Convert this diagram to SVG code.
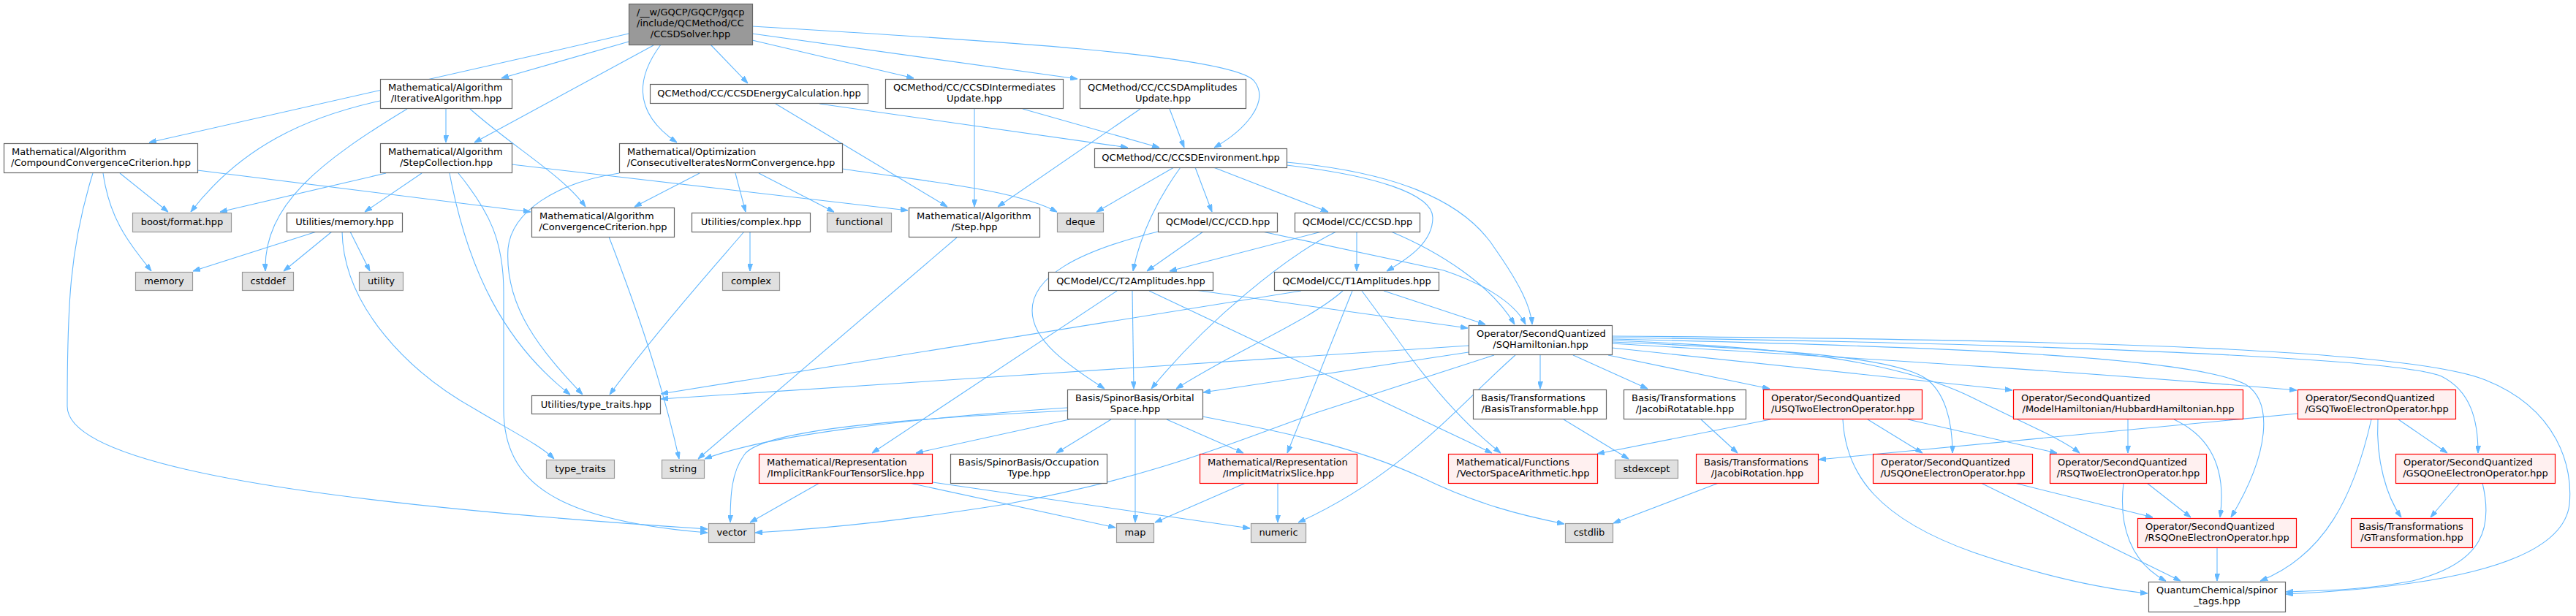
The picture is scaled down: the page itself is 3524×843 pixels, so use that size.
<svg xmlns="http://www.w3.org/2000/svg" width="3524" height="843" viewBox="0 0 3524 843">
<defs>
<marker id="a" viewBox="0 0 10 7" refX="10" refY="3.5" markerWidth="10" markerHeight="7" markerUnits="userSpaceOnUse" orient="auto"><path d="M0,0L10,3.5L0,7z" fill="#63b8ff" stroke="#63b8ff" stroke-width="1"/></marker>
<style>
.e{fill:none;stroke:#63b8ff;stroke-width:1.1;marker-end:url(#a)}
.w rect{fill:#ffffff;stroke:#666666;stroke-width:1.2}
.g rect{fill:#e0e0e0;stroke:#999999;stroke-width:1.2}
.r rect{fill:#fff0f0;stroke:#ff0000;stroke-width:1.2}
.root rect{fill:#999999;stroke:#666666;stroke-width:1.2}
text{font-family:"DejaVu Sans","Liberation Sans",sans-serif;font-size:13px;fill:#000000}
.m{text-anchor:middle}
</style>
</defs>
<rect x="0" y="0" width="3524" height="843" fill="#ffffff"/>
<g id="edges">
<path class="e" d="M860,46 C650,95 450,140 204,195"/>
<path class="e" d="M860,57 L686,107"/>
<path class="e" d="M894,62 L649,195"/>
<path class="e" d="M904,61 C875,100 860,150 926,195"/>
<path class="e" d="M972,61 L1023,114"/>
<path class="e" d="M1029,55 L1250,107"/>
<path class="e" d="M1029,46 L1474,108"/>
<path class="e" d="M1029,36 C1350,55 1680,75 1715,110 C1740,140 1700,180 1661,202"/>
<path class="e" d="M520,138 C420,160 330,200 261,290"/>
<path class="e" d="M557,149 C440,220 360,280 363,371"/>
<path class="e" d="M610,149 L610,195"/>
<path class="e" d="M643,149 C700,200 770,240 801,283"/>
<path class="e" d="M164,237 L230,290"/>
<path class="e" d="M141,237 C150,300 175,330 207,371"/>
<path class="e" d="M127,237 C95,340 92,420 92,556 C92,640 450,690 968,724"/>
<path class="e" d="M270,233 L726,290"/>
<path class="e" d="M528,237 L301,290"/>
<path class="e" d="M577,237 L499,290"/>
<path class="e" d="M615,237 C640,370 690,470 780,540"/>
<path class="e" d="M627,237 C670,290 689,330 689,400 L689,560 C689,660 760,712 968,729"/>
<path class="e" d="M700,225 L1242,288"/>
<path class="e" d="M957,237 L868,283"/>
<path class="e" d="M1006,237 L1020,290"/>
<path class="e" d="M1038,237 L1141,290"/>
<path class="e" d="M1152,231 C1280,250 1390,260 1446,290"/>
<path class="e" d="M847,237 C760,250 700,290 695,340 C690,420 740,480 797,540"/>
<path class="e" d="M1606,229 L1500,290"/>
<path class="e" d="M1615,229 C1585,270 1560,320 1550,371"/>
<path class="e" d="M1635,229 L1658,290"/>
<path class="e" d="M1660,229 L1817,290"/>
<path class="e" d="M1760,226 C1880,240 1960,265 1960,298 C1960,330 1930,352 1897,371"/>
<path class="e" d="M1760,222 C1900,235 2000,270 2045,340 C2080,390 2094,420 2096,444"/>
<path class="e" d="M1646,317 L1569,371"/>
<path class="e" d="M1584,317 C1470,345 1412,380 1412,425 C1412,470 1470,505 1511,532"/>
<path class="e" d="M1727,317 L1975,370 C2020,385 2070,410 2087,444"/>
<path class="e" d="M1808,317 L1600,371"/>
<path class="e" d="M1856,317 L1856,371"/>
<path class="e" d="M1828,317 C1760,350 1650,440 1575,532"/>
<path class="e" d="M1903,317 C1970,345 2040,390 2072,444"/>
<path class="e" d="M1549,398 L1551,532"/>
<path class="e" d="M1635,397 L2008,449"/>
<path class="e" d="M1528,398 L1193,620"/>
<path class="e" d="M1572,398 L2041,620"/>
<path class="e" d="M1780,398 L904,539"/>
<path class="e" d="M1837,398 C1790,440 1690,480 1609,532"/>
<path class="e" d="M1850,398 L1761,620"/>
<path class="e" d="M1863,398 L1905,455 C1940,505 1990,570 2053,620"/>
<path class="e" d="M1893,398 L2032,444"/>
<path class="e" d="M2009,473 L904,546"/>
<path class="e" d="M2009,482 L1646,537"/>
<path class="e" d="M2044,486 L1800,565 C1650,620 1560,656 1376,690 C1250,710 1150,722 1033,729"/>
<path class="e" d="M2073,486 C2000,550 1920,650 1776,715"/>
<path class="e" d="M2107,486 L2107,532"/>
<path class="e" d="M2152,486 L2254,532"/>
<path class="e" d="M2200,486 L2421,532"/>
<path class="e" d="M2205,476 L2753,534"/>
<path class="e" d="M2205,470 C2500,488 2800,505 3142,534"/>
<path class="e" d="M2205,468 C2450,478 2590,490 2633,517 C2660,535 2671,575 2671,620"/>
<path class="e" d="M2205,466 C2450,475 2600,495 2700,545 C2770,580 2820,600 2845,620"/>
<path class="e" d="M2205,464 C2700,475 3000,490 3072,526 C3110,550 3105,620 3052,708"/>
<path class="e" d="M2205,462 C2800,470 3280,490 3340,515 C3380,535 3390,575 3390,620"/>
<path class="e" d="M2205,460 C2900,465 3300,480 3400,520 C3500,560 3520,640 3515,690 C3505,780 3300,805 3127,813"/>
<path class="e" d="M2422,574 L2185,621"/>
<path class="e" d="M2521,574 C2525,650 2570,710 2700,756 C2800,790 2880,806 2938,812"/>
<path class="e" d="M2555,574 L2630,620"/>
<path class="e" d="M2610,574 L2814,620"/>
<path class="e" d="M2911,574 L2911,620"/>
<path class="e" d="M2974,574 C3030,600 3045,650 3037,708"/>
<path class="e" d="M3143,566 L2488,629"/>
<path class="e" d="M3281,574 L3348,620"/>
<path class="e" d="M3253,574 C3250,630 3265,680 3285,708"/>
<path class="e" d="M3244,574 C3220,680 3180,760 3092,795"/>
<path class="e" d="M3365,661 L3325,708"/>
<path class="e" d="M3396,661 C3410,720 3400,770 3300,795 C3230,808 3180,808 3127,810"/>
<path class="e" d="M2756,661 L2945,708"/>
<path class="e" d="M2710,661 L2983,795"/>
<path class="e" d="M2905,661 C2898,720 2915,770 2963,795"/>
<path class="e" d="M2937,661 L2997,708"/>
<path class="e" d="M3033,749 L3033,795"/>
<path class="e" d="M2327,574 L2377,620"/>
<path class="e" d="M2351,661 L2207,716"/>
<path class="e" d="M2139,574 L2228,628"/>
<path class="e" d="M1460,558 C1250,572 1050,595 964,628"/>
<path class="e" d="M1460,562 C1200,575 1050,590 1020,620 C1000,645 999,680 999,715"/>
<path class="e" d="M1463,574 L1253,620"/>
<path class="e" d="M1520,574 L1445,620"/>
<path class="e" d="M1553,574 L1553,715"/>
<path class="e" d="M1596,574 L1701,620"/>
<path class="e" d="M1645,570 C1750,590 1850,610 1944,653 C2020,690 2080,705 2140,717"/>
<path class="e" d="M1121,661 L1026,715"/>
<path class="e" d="M1244,661 L1526,722"/>
<path class="e" d="M1276,660 L1710,723"/>
<path class="e" d="M1704,661 L1580,715"/>
<path class="e" d="M1748,661 L1748,715"/>
<path class="e" d="M433,317 L264,371"/>
<path class="e" d="M454,317 L388,371"/>
<path class="e" d="M479,317 L506,371"/>
<path class="e" d="M468,317 C470,420 560,510 650,560 C700,590 740,610 758,628"/>
<path class="e" d="M833,324 C870,420 905,520 929,628"/>
<path class="e" d="M1026,317 L1026,371"/>
<path class="e" d="M1018,317 C990,350 900,450 834,540"/>
<path class="e" d="M1309,325 L955,628"/>
<path class="e" d="M1061,142 L1296,283"/>
<path class="e" d="M1121,142 L1543,202"/>
<path class="e" d="M1333,149 L1333,283"/>
<path class="e" d="M1399,149 L1586,202"/>
<path class="e" d="M1560,149 L1365,283"/>
<path class="e" d="M1600,149 L1620,202"/>
</g>
<g id="n_root" class="root"><rect x="860.5" y="5.5" width="169" height="56"/><text x="871" y="21">/__w/GQCP/GQCP/gqcp</text><text x="871" y="36">/include/QCMethod/CC</text><text class="m" x="944.5" y="51">/CCSDSolver.hpp</text></g>
<g id="n_iter" class="w"><rect x="520.5" y="108.5" width="180" height="40"/><text x="531" y="124">Mathematical/Algorithm</text><text class="m" x="610.5" y="139">/IterativeAlgorithm.hpp</text></g>
<g id="n_energy" class="w"><rect x="889.5" y="115.5" width="298" height="26"/><text class="m" x="1038.5" y="132">QCMethod/CC/CCSDEnergyCalculation.hpp</text></g>
<g id="n_inter" class="w"><rect x="1211.5" y="108.5" width="243" height="40"/><text x="1222" y="124">QCMethod/CC/CCSDIntermediates</text><text class="m" x="1333" y="139">Update.hpp</text></g>
<g id="n_ampl" class="w"><rect x="1477.5" y="108.5" width="227" height="40"/><text x="1488" y="124">QCMethod/CC/CCSDAmplitudes</text><text class="m" x="1591" y="139">Update.hpp</text></g>
<g id="n_compound" class="w"><rect x="5.5" y="196.5" width="265" height="40"/><text x="16" y="212">Mathematical/Algorithm</text><text class="m" x="138" y="227">/CompoundConvergenceCriterion.hpp</text></g>
<g id="n_stepcoll" class="w"><rect x="520.5" y="196.5" width="180" height="40"/><text x="531" y="212">Mathematical/Algorithm</text><text class="m" x="610.5" y="227">/StepCollection.hpp</text></g>
<g id="n_consec" class="w"><rect x="847.5" y="196.5" width="305" height="40"/><text x="858" y="212">Mathematical/Optimization</text><text class="m" x="1000" y="227">/ConsecutiveIteratesNormConvergence.hpp</text></g>
<g id="n_env" class="w"><rect x="1497.5" y="203.5" width="263" height="26"/><text class="m" x="1629" y="220">QCMethod/CC/CCSDEnvironment.hpp</text></g>
<g id="n_boost" class="g"><rect x="181.5" y="291.5" width="135" height="26"/><text class="m" x="249" y="308">boost/format.hpp</text></g>
<g id="n_umem" class="w"><rect x="392.5" y="291.5" width="158" height="26"/><text class="m" x="471.5" y="308">Utilities/memory.hpp</text></g>
<g id="n_conv" class="w"><rect x="727.5" y="284.5" width="195" height="40"/><text x="738" y="300">Mathematical/Algorithm</text><text class="m" x="825" y="315">/ConvergenceCriterion.hpp</text></g>
<g id="n_ucomplex" class="w"><rect x="946.5" y="291.5" width="162" height="26"/><text class="m" x="1027.5" y="308">Utilities/complex.hpp</text></g>
<g id="n_functional" class="g"><rect x="1131.5" y="291.5" width="88" height="26"/><text class="m" x="1175.5" y="308">functional</text></g>
<g id="n_step" class="w"><rect x="1243.5" y="284.5" width="179" height="40"/><text x="1254" y="300">Mathematical/Algorithm</text><text class="m" x="1333" y="315">/Step.hpp</text></g>
<g id="n_deque" class="g"><rect x="1446.5" y="291.5" width="63" height="26"/><text class="m" x="1478" y="308">deque</text></g>
<g id="n_ccd" class="w"><rect x="1584.5" y="291.5" width="163" height="26"/><text class="m" x="1666" y="308">QCModel/CC/CCD.hpp</text></g>
<g id="n_ccsd" class="w"><rect x="1771.5" y="291.5" width="171" height="26"/><text class="m" x="1857" y="308">QCModel/CC/CCSD.hpp</text></g>
<g id="n_memory" class="g"><rect x="185.5" y="372.5" width="78" height="25"/><text class="m" x="224.5" y="389">memory</text></g>
<g id="n_cstddef" class="g"><rect x="331.5" y="372.5" width="70" height="25"/><text class="m" x="366.5" y="389">cstddef</text></g>
<g id="n_utility" class="g"><rect x="491.5" y="372.5" width="60" height="25"/><text class="m" x="521.5" y="389">utility</text></g>
<g id="n_complex" class="g"><rect x="988.5" y="372.5" width="78" height="25"/><text class="m" x="1027.5" y="389">complex</text></g>
<g id="n_t2" class="w"><rect x="1434.5" y="372.5" width="225" height="25"/><text class="m" x="1547" y="389">QCModel/CC/T2Amplitudes.hpp</text></g>
<g id="n_t1" class="w"><rect x="1743.5" y="372.5" width="225" height="25"/><text class="m" x="1856" y="389">QCModel/CC/T1Amplitudes.hpp</text></g>
<g id="n_sqh" class="w"><rect x="2009.5" y="445.5" width="196" height="40"/><text x="2020" y="461">Operator/SecondQuantized</text><text class="m" x="2107.5" y="476">/SQHamiltonian.hpp</text></g>
<g id="n_utraits" class="w"><rect x="727.5" y="541.5" width="176" height="25"/><text class="m" x="815.5" y="558">Utilities/type_traits.hpp</text></g>
<g id="n_orbital" class="w"><rect x="1460.5" y="533.5" width="185" height="40"/><text x="1471" y="549">Basis/SpinorBasis/Orbital</text><text class="m" x="1553" y="564">Space.hpp</text></g>
<g id="n_btrans" class="w"><rect x="2015.5" y="533.5" width="182" height="40"/><text x="2026" y="549">Basis/Transformations</text><text class="m" x="2106.5" y="564">/BasisTransformable.hpp</text></g>
<g id="n_jrotatable" class="w"><rect x="2221.5" y="533.5" width="167" height="40"/><text x="2232" y="549">Basis/Transformations</text><text class="m" x="2305" y="564">/JacobiRotatable.hpp</text></g>
<g id="n_usq2" class="r"><rect x="2412.5" y="533.5" width="217" height="40"/><text x="2423" y="549">Operator/SecondQuantized</text><text class="m" x="2521" y="564">/USQTwoElectronOperator.hpp</text></g>
<g id="n_hubbard" class="r"><rect x="2754.5" y="533.5" width="314" height="40"/><text x="2765" y="549">Operator/SecondQuantized</text><text class="m" x="2911.5" y="564">/ModelHamiltonian/HubbardHamiltonian.hpp</text></g>
<g id="n_gsq2" class="r"><rect x="3143.5" y="533.5" width="216" height="40"/><text x="3154" y="549">Operator/SecondQuantized</text><text class="m" x="3251.5" y="564">/GSQTwoElectronOperator.hpp</text></g>
<g id="n_traits" class="g"><rect x="747.5" y="629.5" width="93" height="25"/><text class="m" x="794" y="646">type_traits</text></g>
<g id="n_string" class="g"><rect x="905.5" y="629.5" width="58" height="25"/><text class="m" x="934.5" y="646">string</text></g>
<g id="n_irf" class="r"><rect x="1038.5" y="621.5" width="237" height="40"/><text x="1049" y="637">Mathematical/Representation</text><text class="m" x="1157" y="652">/ImplicitRankFourTensorSlice.hpp</text></g>
<g id="n_occ" class="w"><rect x="1300.5" y="621.5" width="214" height="40"/><text x="1311" y="637">Basis/SpinorBasis/Occupation</text><text class="m" x="1407.5" y="652">Type.hpp</text></g>
<g id="n_ims" class="r"><rect x="1641.5" y="621.5" width="215" height="40"/><text x="1652" y="637">Mathematical/Representation</text><text class="m" x="1749" y="652">/ImplicitMatrixSlice.hpp</text></g>
<g id="n_vsa" class="r"><rect x="1981.5" y="621.5" width="204" height="40"/><text x="1992" y="637">Mathematical/Functions</text><text class="m" x="2083.5" y="652">/VectorSpaceArithmetic.hpp</text></g>
<g id="n_stdexcept" class="g"><rect x="2209.5" y="629.5" width="86" height="25"/><text class="m" x="2252.5" y="646">stdexcept</text></g>
<g id="n_jrot" class="r"><rect x="2320.5" y="621.5" width="167" height="40"/><text x="2331" y="637">Basis/Transformations</text><text class="m" x="2404" y="652">/JacobiRotation.hpp</text></g>
<g id="n_usq1" class="r"><rect x="2562.5" y="621.5" width="218" height="40"/><text x="2573" y="637">Operator/SecondQuantized</text><text class="m" x="2671.5" y="652">/USQOneElectronOperator.hpp</text></g>
<g id="n_rsq2" class="r"><rect x="2804.5" y="621.5" width="214" height="40"/><text x="2815" y="637">Operator/SecondQuantized</text><text class="m" x="2911.5" y="652">/RSQTwoElectronOperator.hpp</text></g>
<g id="n_gsq1" class="r"><rect x="3277.5" y="621.5" width="218" height="40"/><text x="3288" y="637">Operator/SecondQuantized</text><text class="m" x="3386.5" y="652">/GSQOneElectronOperator.hpp</text></g>
<g id="n_vector" class="g"><rect x="969.5" y="716.5" width="63" height="26"/><text class="m" x="1001" y="733">vector</text></g>
<g id="n_map" class="g"><rect x="1527.5" y="716.5" width="51" height="26"/><text class="m" x="1553" y="733">map</text></g>
<g id="n_numeric" class="g"><rect x="1711.5" y="716.5" width="75" height="26"/><text class="m" x="1749" y="733">numeric</text></g>
<g id="n_cstdlib" class="g"><rect x="2141.5" y="716.5" width="65" height="26"/><text class="m" x="2174" y="733">cstdlib</text></g>
<g id="n_rsq1" class="r"><rect x="2924.5" y="709.5" width="217" height="40"/><text x="2935" y="725">Operator/SecondQuantized</text><text class="m" x="3033" y="740">/RSQOneElectronOperator.hpp</text></g>
<g id="n_gtrans" class="r"><rect x="3216.5" y="709.5" width="166" height="40"/><text x="3227" y="725">Basis/Transformations</text><text class="m" x="3299.5" y="740">/GTransformation.hpp</text></g>
<g id="n_qc" class="w"><rect x="2939.5" y="796.5" width="187" height="41"/><text x="2950" y="812">QuantumChemical/spinor</text><text class="m" x="3033" y="827">_tags.hpp</text></g>
</svg>
